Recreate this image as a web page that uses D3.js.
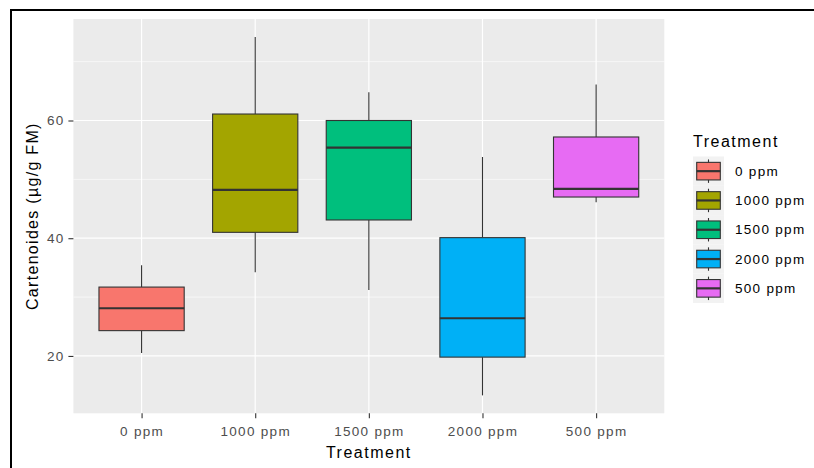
<!DOCTYPE html>
<html>
<head>
<meta charset="utf-8">
<script src="https://cdnjs.cloudflare.com/ajax/libs/d3/7.8.5/d3.min.js"></script>
<style>
    body { margin: 0; background: white; }
    text { font-family: "Liberation Sans", Arial, sans-serif; }
</style>
</head>
<body>
<script>
// box stats
var categories = ["0 ppm", "1000 ppm", "1500 ppm", "2000 ppm", "500 ppm"];
var whiskerLow = [20.5, 34.2, 31.2, 13.3, 46.1];
var lowerQ = [24.3, 41.0, 43.1, 19.8, 47.0];
var medians = [28.1, 48.2, 55.4, 26.4, 48.4];
var upperQ = [31.7, 61.1, 60.0, 40.1, 57.2];
var whiskerHigh = [35.4, 74.2, 64.8, 53.8, 66.1];
var fills = ["#F8766D", "#A3A500", "#00BF7D", "#00B0F6", "#E76BF3"];
var yTicks = [20, 40, 60];
var yMinor = [10, 30, 50, 70];

var boxes = categories.map(function (c, i) {
    return { cat: c, lo: whiskerLow[i], q1: lowerQ[i], med: medians[i], q3: upperQ[i], hi: whiskerHigh[i], fill: fills[i] };
});

var width = 814, height = 468;
var panel = { left: 73.4, right: 664.3, top: 19, bottom: 413.3 };

var svg = d3.select("body")
    .append("svg")
    .attr("width", width)
    .attr("height", height);

// frame around the screenshot
svg.append("line").attr("x1", 10).attr("x2", width).attr("y1", 10).attr("y2", 10)
    .style("stroke", "black").style("stroke-width", 2);
svg.append("line").attr("x1", 11).attr("x2", 11).attr("y1", 9).attr("y2", height)
    .style("stroke", "black").style("stroke-width", 2);

// ggplot style 5% expansion
var lo = d3.min(whiskerLow), hi = d3.max(whiskerHigh), pad = (hi - lo) * 0.05;
var y = d3.scaleLinear()
    .domain([lo - pad, hi + pad])
    .range([panel.bottom, panel.top]);

var x = d3.scalePoint()
    .domain(categories)
    .range([panel.left, panel.right])
    .padding(0.6);

var boxW = x.step() * 0.75;

svg.append("rect")
    .attr("x", panel.left).attr("y", panel.top)
    .attr("width", panel.right - panel.left).attr("height", panel.bottom - panel.top)
    .style("fill", "#EBEBEB");

var grid = svg.append("g").attr("class", "grid");
grid.selectAll("line.minor")
    .data(yMinor.filter(function (v) { return y(v) <= panel.bottom && y(v) >= panel.top; }))
    .enter().append("line")
    .attr("class", "minor")
    .attr("x1", panel.left).attr("x2", panel.right)
    .attr("y1", function (d) { return y(d); }).attr("y2", function (d) { return y(d); })
    .style("stroke", "white").style("stroke-width", 0.6);
grid.selectAll("line.hmajor")
    .data(yTicks)
    .enter().append("line")
    .attr("class", "hmajor")
    .attr("x1", panel.left).attr("x2", panel.right)
    .attr("y1", function (d) { return y(d); }).attr("y2", function (d) { return y(d); })
    .style("stroke", "white").style("stroke-width", 1.2);
grid.selectAll("line.vmajor")
    .data(categories)
    .enter().append("line")
    .attr("class", "vmajor")
    .attr("x1", function (d) { return x(d); }).attr("x2", function (d) { return x(d); })
    .attr("y1", panel.top).attr("y2", panel.bottom)
    .style("stroke", "white").style("stroke-width", 1.2);

// boxplots
var g = svg.append("g").attr("class", "boxes")
    .selectAll("g")
    .data(boxes)
    .enter().append("g");

g.append("line")
    .attr("x1", function (d) { return x(d.cat); }).attr("x2", function (d) { return x(d.cat); })
    .attr("y1", function (d) { return y(d.hi); }).attr("y2", function (d) { return y(d.q3); })
    .style("stroke", "#333333").style("stroke-width", 1.1);
g.append("line")
    .attr("x1", function (d) { return x(d.cat); }).attr("x2", function (d) { return x(d.cat); })
    .attr("y1", function (d) { return y(d.q1); }).attr("y2", function (d) { return y(d.lo); })
    .style("stroke", "#333333").style("stroke-width", 1.1);
g.append("rect")
    .attr("x", function (d) { return x(d.cat) - boxW / 2; })
    .attr("width", boxW)
    .attr("y", function (d) { return y(d.q3); })
    .attr("height", function (d) { return y(d.q1) - y(d.q3); })
    .style("fill", function (d) { return d.fill; })
    .style("stroke", "#333333").style("stroke-width", 1.1);
g.append("line")
    .attr("x1", function (d) { return x(d.cat) - boxW / 2; }).attr("x2", function (d) { return x(d.cat) + boxW / 2; })
    .attr("y1", function (d) { return y(d.med); }).attr("y2", function (d) { return y(d.med); })
    .style("stroke", "#333333").style("stroke-width", 2.2);

// axes
var yAxis = svg.append("g")
    .attr("transform", "translate(" + panel.left + ",0)")
    .call(d3.axisLeft(y).tickValues(yTicks).tickSize(5).tickPadding(3.8));
var xAxis = svg.append("g")
    .attr("transform", "translate(0," + panel.bottom + ")")
    .call(d3.axisBottom(x).tickSize(5).tickPadding(8));
[yAxis, xAxis].forEach(function (a) {
    a.select(".domain").remove();
    a.selectAll(".tick line").style("stroke", "#333333").style("stroke-width", 1.1);
    a.selectAll(".tick text")
        .style("fill", "#4D4D4D")
        .style("font-size", "13.5px")
        .style("letter-spacing", "1.3px")
        .style("font-family", "'Liberation Sans', Arial, sans-serif");
});

svg.append("text")
    .attr("x", (panel.left + panel.right) / 2)
    .attr("y", 458)
    .attr("text-anchor", "middle")
    .style("font-size", "16px")
    .style("letter-spacing", "1.5px")
    .text("Treatment");

svg.append("text")
    .attr("transform", "translate(38," + (panel.top + panel.bottom) / 2 + ") rotate(-90)")
    .attr("text-anchor", "middle")
    .style("font-size", "16px")
    .style("letter-spacing", "1.3px")
    .text("Cartenoides (\u00b5g/g FM)");

// legend
var legend = svg.append("g").attr("class", "legend");
legend.append("text")
    .attr("x", 693)
    .attr("y", 147)
    .style("font-size", "16px")
    .style("letter-spacing", "1.5px")
    .text("Treatment");

var keyH = 29.3, keyW = 31, keyTop = 156.5, keyLeft = 693;
var key = legend.selectAll("g.key")
    .data(boxes)
    .enter().append("g")
    .attr("class", "key")
    .attr("transform", function (d, i) { return "translate(" + keyLeft + "," + (keyTop + i * keyH) + ")"; });

key.append("rect")
    .attr("width", keyW).attr("height", keyH)
    .style("fill", "#F2F2F2");
key.append("line")
    .attr("x1", keyW / 2).attr("x2", keyW / 2)
    .attr("y1", keyH * 0.1).attr("y2", keyH * 0.9)
    .style("stroke", "#333333").style("stroke-width", 1.1);
key.append("rect")
    .attr("x", 3.7).attr("width", keyW - 7.4)
    .attr("y", keyH * 0.2).attr("height", keyH * 0.6)
    .style("fill", function (d) { return d.fill; })
    .style("stroke", "#333333").style("stroke-width", 1.1);
key.append("line")
    .attr("x1", 3.7).attr("x2", keyW - 3.7)
    .attr("y1", keyH / 2).attr("y2", keyH / 2)
    .style("stroke", "#333333").style("stroke-width", 2.2);
key.append("text")
    .attr("x", 42)
    .attr("y", keyH / 2)
    .attr("dy", "0.35em")
    .style("font-size", "13.5px")
    .style("letter-spacing", "1.3px")
    .style("fill", "black")
    .text(function (d) { return d.cat; });
</script>
</body>
</html>
